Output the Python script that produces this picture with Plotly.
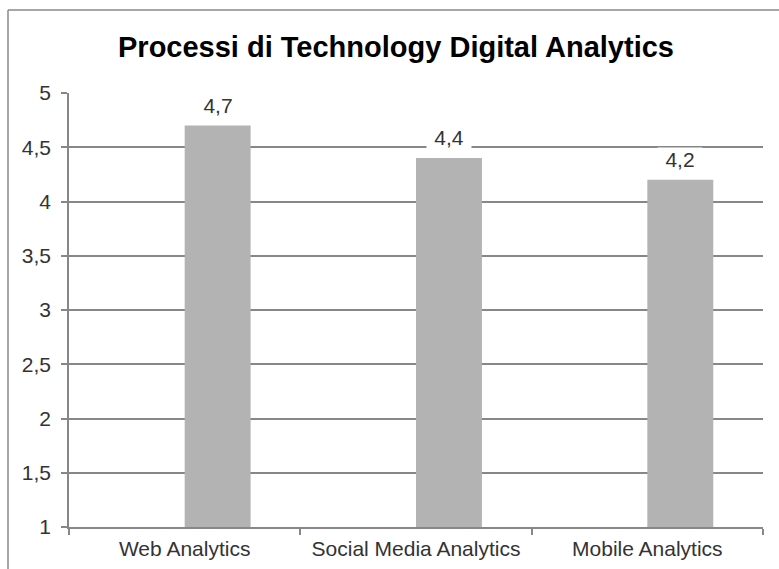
import plotly.graph_objects as go

# Chart data
categories = ["Web Analytics", "Social Media Analytics", "Mobile Analytics"]
scores = [4.7, 4.4, 4.2]
y_tick_values = [1, 1.5, 2, 2.5, 3, 3.5, 4, 4.5, 5]
y_tick_labels = ["1", "1,5", "2", "2,5", "3", "3,5", "4", "4,5", "5"]
title_text = "Processi di Technology Digital Analytics"

BAR_W = 0.285          # bar width in category units
GRID = "#878787"
FONT = "Liberation Sans, Arial, sans-serif"
TXT = "#333333"
FS = 21

fig = go.Figure()
fig.add_trace(go.Bar(
    x=categories,
    y=[v - 1 for v in scores],
    base=1,
    offset=0,
    width=BAR_W,
    marker=dict(color="#b3b3b3", line=dict(width=0)),
    hoverinfo="skip",
))

# value labels with white boxes that interrupt the gridlines
for i, v in enumerate(scores):
    fig.add_annotation(
        x=i + BAR_W / 2, y=v, xref="x", yref="y",
        text=f"{v:.1f}".replace(".", ","),
        showarrow=False, yanchor="middle", yshift=21,
        bgcolor="white", width=44, height=22, borderpad=0,
        font=dict(family=FONT, size=FS, color=TXT),
    )

# chart frame (left and top edges)
fig.add_shape(type="line", xref="paper", yref="paper",
              x0=-0.0879, x1=-0.0879, y0=-0.3, y1=1.1912,
              line=dict(color="#8a8a8a", width=1.5))
fig.add_shape(type="line", xref="paper", yref="paper",
              x0=-0.0879, x1=1.2, y0=1.1912, y1=1.1912,
              line=dict(color="#8a8a8a", width=1.5))

fig.update_layout(
    width=779, height=569,
    margin=dict(l=69, r=16, t=93, b=42),
    paper_bgcolor="white", plot_bgcolor="white",
    showlegend=False,
    title=dict(text=f"<b>{title_text}</b>", x=396 / 779, xanchor="center",
               y=1 - 47 / 569, yanchor="middle", xref="container", yref="container",
               font=dict(family=FONT, size=29, color="#000000")),
    font=dict(family=FONT, size=FS, color=TXT),
    xaxis=dict(
        type="category", range=[-0.5, 2.5], automargin=False,
        showline=True, linecolor=GRID, linewidth=1.5,
        ticks="outside", tickson="boundaries", ticklen=6, tickcolor=GRID, tickwidth=1.5,
        showgrid=False, ticklabelstandoff=2,
        tickfont=dict(family=FONT, size=FS, color=TXT),
        fixedrange=True,
    ),
    yaxis=dict(
        range=[1, 5], tickvals=y_tick_values, ticktext=y_tick_labels,
        automargin=False,
        showline=True, linecolor=GRID, linewidth=1.5,
        ticks="outside", ticklen=6, tickcolor=GRID, tickwidth=1.5,
        showgrid=True, gridcolor=GRID, gridwidth=1.5, zeroline=False,
        ticklabelstandoff=6,
        tickfont=dict(family=FONT, size=FS, color=TXT),
        fixedrange=True,
    ),
)

fig.write_html("out.html")
